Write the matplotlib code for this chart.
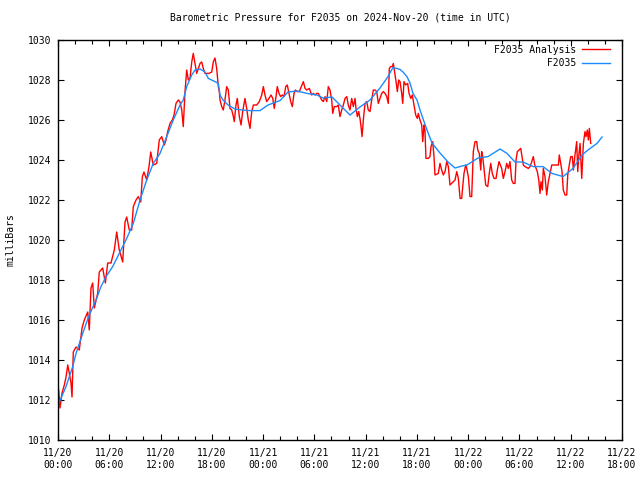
import numpy as np
import pandas as pd
import matplotlib
matplotlib.use('Agg')
import matplotlib.pyplot as plt
import matplotlib.dates as mdates

# Config
station = 'F2035'
start = pd.Timestamp('2024-11-20 00:00')
end = pd.Timestamp('2024-11-22 18:00')

# Analysis (red) - hours since start, pressure in mb
analysis_hours = [
    0.08, 0.23, 0.47, 0.74, 0.94, 1.14, 1.32, 1.52, 1.64, 1.79, 2.11, 2.49, 2.81, 3.08, 3.48,
    3.66, 3.86, 4.06, 4.25, 4.65, 4.83, 5.23, 5.54, 5.82, 6.20, 6.59, 6.87, 7.17, 7.57, 7.84,
    8.04, 8.34, 8.62, 8.81, 9.13, 9.40, 9.68, 9.87, 10.06, 10.38, 10.65, 10.85, 11.15, 11.55,
    11.85, 12.14, 12.44, 12.64, 12.84, 13.11, 13.38, 13.58, 13.81, 14.08, 14.28, 14.48, 14.66,
    14.86, 15.06, 15.25, 15.45, 15.65, 15.83, 16.03, 16.23, 16.42, 16.62, 16.82, 17.00, 17.20,
    17.67, 17.99, 18.17, 18.37, 18.57, 18.76, 18.88, 18.96, 19.16, 19.34, 19.54, 19.74, 19.93,
    20.13, 20.33, 20.52, 20.63, 20.83, 20.98, 21.22, 21.42, 21.61, 21.88, 22.08, 22.27, 22.47,
    22.67, 22.86, 23.25, 23.56, 23.84, 24.03, 24.22, 24.42, 24.69, 24.93, 25.13, 25.31, 25.51,
    25.66, 25.86, 26.06, 26.25, 26.45, 26.65, 26.83, 27.03, 27.23, 27.42, 27.62, 27.77, 28.00,
    28.24, 28.47, 28.71, 28.91, 29.10, 29.41, 29.69, 29.88, 30.08, 30.27, 30.46, 30.66, 30.86,
    31.05, 31.25, 31.45, 31.63, 31.83, 32.03, 32.15, 32.33, 32.61, 32.80, 33.00, 33.20, 33.39,
    33.59, 33.79, 33.97, 34.17, 34.37, 34.56, 34.76, 34.87, 35.03, 35.19, 35.34, 35.46, 35.58,
    35.73, 35.93, 36.13, 36.31, 36.51, 36.71, 36.90, 37.10, 37.30, 37.48, 37.68, 37.88, 38.07,
    38.27, 38.47, 38.65, 38.77, 38.93, 39.12, 39.24, 39.36, 39.56, 39.71, 39.87, 40.02, 40.22,
    40.34, 40.49, 40.69, 40.92, 41.08, 41.28, 41.46, 41.66, 41.86, 42.05, 42.16, 42.36, 42.56,
    42.68, 42.83, 42.94, 43.06, 43.33, 43.53, 43.65, 43.85, 44.00, 44.12, 44.50, 44.70, 44.90,
    45.09, 45.29, 45.49, 45.68, 45.87, 46.26, 46.46, 46.66, 46.85, 47.05, 47.24, 47.36, 47.51,
    47.71, 47.83, 48.02, 48.21, 48.41, 48.60, 48.80, 49.00, 49.12, 49.30, 49.47, 49.58, 49.70,
    49.85, 50.05, 50.29, 50.47, 50.64, 50.82, 51.02, 51.26, 51.41, 51.61, 51.92, 52.11, 52.31,
    52.51, 52.70, 52.89, 53.09, 53.28, 53.48, 53.60, 53.75, 53.95, 54.15, 54.30, 54.45, 54.65,
    55.04, 55.24, 55.44, 55.62, 55.79, 55.94, 56.09, 56.26, 56.41, 56.52, 56.68, 56.79, 56.99,
    57.19, 57.38, 57.58, 57.78, 58.56, 58.66, 58.83, 58.98, 59.13, 59.33, 59.53, 59.65, 59.80,
    60.00, 60.19, 60.31, 60.50, 60.70, 60.82, 60.97, 61.09, 61.29, 61.48, 61.67, 61.79, 61.94,
    62.06, 62.18, 62.34,
]
analysis_mb = [
    1012.5, 1011.6, 1012.35, 1012.75, 1013.15, 1013.75, 1013.35, 1012.85, 1012.15, 1014.4,
    1014.65, 1014.5, 1015.6, 1016.0, 1016.4, 1015.5, 1017.6, 1017.85, 1016.6, 1017.35, 1018.4,
    1018.6, 1017.85, 1018.85, 1018.85, 1019.5, 1020.4, 1019.5, 1018.9, 1020.9, 1021.15, 1020.5,
    1020.5, 1021.67, 1022.0, 1022.17, 1021.9, 1023.17, 1023.4, 1023.0, 1023.67, 1024.4, 1023.75,
    1023.83, 1025.0, 1025.17, 1024.75, 1025.0, 1025.42, 1025.83, 1026.0, 1026.25, 1026.83, 1027.0,
    1026.9, 1026.5, 1025.67, 1027.4, 1028.5, 1028.0, 1028.1, 1028.9, 1029.33, 1028.83, 1028.33,
    1028.58, 1028.83, 1028.9, 1028.58, 1028.33, 1028.33, 1028.4, 1028.9, 1029.1, 1028.58, 1027.67,
    1027.4, 1027.0, 1026.67, 1026.5, 1027.0, 1027.67, 1027.5, 1026.58, 1026.5, 1026.17, 1025.92,
    1026.75, 1027.08, 1026.17, 1025.75, 1026.42, 1027.08, 1026.58, 1026.0, 1025.58, 1026.42,
    1026.75, 1026.75, 1026.92, 1027.25, 1027.67, 1027.25, 1026.92, 1027.08, 1027.25, 1027.08,
    1026.58, 1027.17, 1027.67, 1027.33, 1027.17, 1027.25, 1027.17, 1027.67, 1027.75, 1027.33,
    1026.92, 1026.67, 1027.33, 1027.5, 1027.42, 1027.42, 1027.67, 1027.92, 1027.58, 1027.5,
    1027.58, 1027.25, 1027.33, 1027.25, 1027.33, 1027.33, 1027.17, 1027.0, 1026.92, 1027.17,
    1026.92, 1027.67, 1027.5, 1027.0, 1026.33, 1026.67, 1026.67, 1026.75, 1026.17, 1026.5,
    1026.75, 1027.08, 1027.17, 1026.75, 1026.5, 1027.08, 1026.67, 1027.08, 1026.58, 1026.17,
    1026.42, 1026.08, 1025.67, 1025.17, 1026.0, 1026.83, 1026.92, 1026.5, 1026.42, 1027.0,
    1027.5, 1027.5, 1027.42, 1026.83, 1027.08, 1027.33, 1027.42, 1027.33, 1027.17, 1026.83,
    1028.58, 1028.67, 1028.67, 1028.83, 1028.5, 1027.92, 1027.42, 1028.0, 1027.92, 1027.33,
    1026.83, 1027.92, 1027.75, 1027.83, 1027.33, 1027.08, 1027.25, 1026.75, 1026.25, 1026.08,
    1026.33, 1026.0, 1025.75, 1024.92, 1025.75, 1025.5, 1024.08, 1024.08, 1024.17, 1024.67,
    1024.92, 1024.17, 1023.25, 1023.33, 1023.83, 1023.5, 1023.25, 1023.42, 1023.92, 1023.67,
    1022.75, 1022.92, 1023.0, 1023.42, 1023.08, 1022.08, 1022.08, 1022.67, 1023.33, 1023.75,
    1023.58, 1023.17, 1022.17, 1022.17, 1024.42, 1024.92, 1024.92, 1024.5, 1024.33, 1023.5,
    1024.42, 1024.17, 1023.58, 1022.75, 1022.67, 1023.33, 1023.83, 1023.33, 1023.08, 1023.08,
    1023.5, 1023.92, 1023.58, 1023.08, 1023.42, 1023.83, 1023.58, 1023.92, 1023.0, 1022.83,
    1022.83, 1024.0, 1024.42, 1024.5, 1024.58, 1024.17, 1023.75, 1023.67, 1023.58, 1023.67,
    1023.92, 1024.17, 1023.75, 1023.58, 1023.42, 1023.0, 1022.33, 1022.92, 1022.5, 1023.58,
    1023.17, 1022.25, 1022.92, 1023.33, 1023.75, 1023.75, 1024.25, 1023.83, 1023.42, 1022.5,
    1022.25, 1022.25, 1023.25, 1023.67, 1024.17, 1024.17, 1023.5, 1024.25, 1024.92, 1023.42,
    1024.33, 1024.83, 1023.08, 1024.83, 1025.42, 1025.17, 1025.5, 1025.0, 1025.58, 1024.83,
]

# Station obs (blue)
station_hours = [
    0.0, 0.94, 1.72, 2.11, 2.89, 3.66, 4.45, 5.03, 5.62, 6.40, 7.17, 8.04, 8.81, 9.60, 10.38,
    11.15, 11.94, 12.72, 13.49, 14.28, 14.66, 15.06, 15.65, 16.03, 16.62, 17.20, 17.59, 18.37,
    18.76, 18.96, 19.31, 19.90, 20.71, 21.53, 22.47, 23.64, 24.58, 25.98, 26.92, 27.97, 29.14,
    30.31, 31.01, 32.07, 33.00, 34.17, 35.34, 36.51, 37.68, 38.62, 39.20, 40.02, 40.37, 40.84,
    41.19, 41.54, 42.01, 42.36, 43.18, 43.77, 44.70, 45.64, 46.46, 47.28, 47.86, 49.15, 50.32,
    51.73, 52.54, 53.48, 54.42, 55.59, 56.76, 57.81, 59.10, 60.27, 61.32, 62.02, 63.08, 63.66,
]
station_mb = [
    1011.75, 1012.67, 1013.67, 1014.33, 1015.33, 1016.25, 1017.0, 1017.67, 1018.17, 1018.67,
    1019.33, 1020.08, 1020.83, 1022.0, 1023.0, 1023.83, 1024.33, 1025.17, 1026.0, 1026.75,
    1027.0, 1027.67, 1028.25, 1028.5, 1028.55, 1028.4, 1028.08, 1027.92, 1027.83, 1027.25,
    1027.0, 1026.75, 1026.55, 1026.5, 1026.47, 1026.47, 1026.75, 1026.97, 1027.4, 1027.45,
    1027.33, 1027.25, 1027.1, 1027.15, 1026.75, 1026.25, 1026.65, 1027.0, 1027.6, 1028.17,
    1028.63, 1028.53, 1028.4, 1028.17, 1027.85, 1027.33, 1027.0, 1026.5, 1025.5, 1024.85,
    1024.35, 1023.9, 1023.6, 1023.7, 1023.75, 1024.1, 1024.17, 1024.55, 1024.33, 1023.9,
    1023.9, 1023.67, 1023.67, 1023.33, 1023.17, 1023.58, 1024.25, 1024.5, 1024.83, 1025.15,
]

t_analysis = start + pd.to_timedelta(analysis_hours, unit='h')
t_station = start + pd.to_timedelta(station_hours, unit='h')

plt.rcParams['font.family'] = 'DejaVu Sans Mono'
plt.rcParams['font.size'] = 7

fig = plt.figure(figsize=(6.4, 4.8), dpi=100)
ax = fig.add_axes([58 / 640, 40 / 480, 564 / 640, 400 / 480])

ax.plot(t_analysis, analysis_mb, color='#ff0000', linewidth=1.0,
        label=f'{station} Analysis')
ax.plot(t_station, station_mb, color='#1a8cff', linewidth=1.0,
        label=station.rjust(len(f'{station} Analysis')))

ax.set_xlim(start, end)
ax.set_ylim(1010, 1030)
ax.set_yticks(np.arange(1010, 1031, 2))
ax.xaxis.set_major_locator(mdates.HourLocator(byhour=range(0, 24, 6)))
ax.xaxis.set_minor_locator(mdates.HourLocator(byhour=range(0, 24, 2)))
ax.xaxis.set_major_formatter(mdates.DateFormatter('%m/%d\n%H:%M'))

ax.tick_params(which='both', direction='in', top=True, right=True, width=0.8)
ax.tick_params(which='major', length=4.5)
ax.tick_params(which='minor', length=3)
ax.tick_params(axis='x', which='major', pad=6)
ax.tick_params(axis='y', which='major', pad=5)
for s in ax.spines.values():
    s.set_linewidth(1.0)

ax.set_title(f'Barometric Pressure for {station} on 2024-Nov-20 (time in UTC)',
             fontsize=7, pad=14)
ax.set_ylabel('milliBars', fontsize=7)
ax.yaxis.set_label_coords(-0.075, 0.5)

ax.legend(loc='upper right', bbox_to_anchor=(0.9876, 1.0), frameon=False,
          markerfirst=False, handlelength=2.9, handletextpad=0.6,
          labelspacing=0.35, borderaxespad=0.1)

fig.savefig('out.png', dpi=100)
